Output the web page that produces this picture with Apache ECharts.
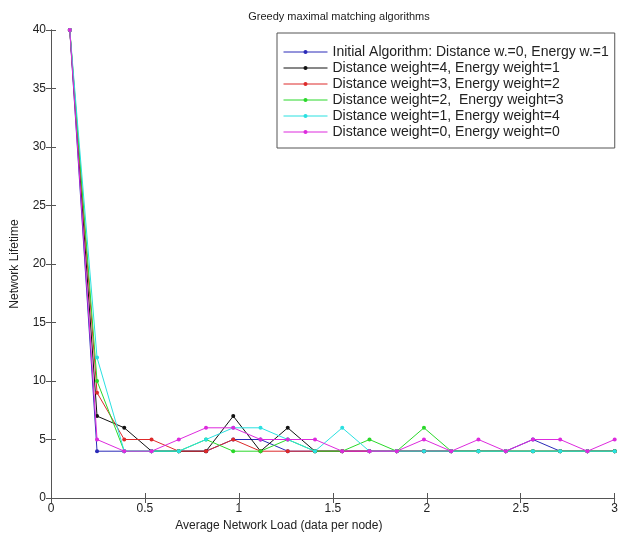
<!DOCTYPE html>
<html>
<head>
<meta charset="utf-8">
<script src="https://cdn.jsdelivr.net/npm/echarts@6/dist/echarts.min.js"></script>
<style>html,body{margin:0;padding:0;background:#fff}#c{width:621px;height:538px}</style>
</head>
<body>
<div id="c"></div>
<script>
const xValues = [0.1,0.245,0.39,0.535,0.68,0.825,0.97,1.115,1.26,1.405,1.55,1.695,1.84,1.985,2.13,2.275,2.42,2.565,2.71,2.855,3.0];
const initialAlg = [40,4,4,4,4,4,5,5,4,4,4,4,4,4,4,4,4,5,4,4,4];
const dist4En1  = [40,7,6,4,4,4,7,4,6,4,4,4,4,4,4,4,4,4,4,4,4];
const dist3En2  = [40,9,5,5,4,4,5,4,4,4,4,4,4,4,4,4,4,4,4,4,4];
const dist2En3  = [40,10,4,4,4,5,4,4,5,4,4,5,4,6,4,4,4,4,4,4,4];
const dist1En4  = [40,12,4,4,4,5,6,6,5,4,6,4,4,4,4,4,4,4,4,4,4];
const dist0En0  = [40,5,4,4,5,6,6,5,5,5,4,4,4,5,4,5,4,5,5,4,5];
const seriesNames = [
  'Initial Algorithm: Distance w.=0, Energy w.=1',
  'Distance weight=4, Energy weight=1',
  'Distance weight=3, Energy weight=2',
  'Distance weight=2,  Energy weight=3',
  'Distance weight=1, Energy weight=4',
  'Distance weight=0, Energy weight=0'
];
const seriesData = [initialAlg, dist4En1, dist3En2, dist2En3, dist1En4, dist0En0];
const colors = ['#2a2ab8','#111111','#dd2a2a','#2ad82a','#2ae0e0','#dd2add'];
const xTicks = [0,0.5,1,1.5,2,2.5,3];
const yTicks = [0,5,10,15,20,25,30,35,40];

const font = 'Liberation Sans, Arial, sans-serif';
const chart = echarts.init(document.getElementById('c'));
const axisLine = {show:true, lineStyle:{color:'#555', width:1}};
chart.setOption({
  animation:false,
  backgroundColor:'#fff',
  title:{text:'Greedy maximal matching algorithms', left:334, textAlign:'center', top:6,
    textStyle:{fontFamily:font, fontSize:11, fontWeight:'normal', color:'#222'}},
  grid:{left:51, right:4, top:30, bottom:40},
  legend:{
    orient:'vertical', left:277, top:33,
    padding:[11,6,8,6], itemGap:0, itemWidth:44, itemHeight:5,
    backgroundColor:'#fff', borderColor:'#555', borderWidth:1, borderRadius:0,
    lineStyle:{width:1},
    textStyle:{fontFamily:font, fontSize:14, lineHeight:16, color:'#222'},
    data: seriesNames
  },
  xAxis:[{
    type:'value', min:0, max:3, interval:0.5,
    name:'Average Network Load (data per node)', nameLocation:'middle', nameGap:20,
    nameTextStyle:{fontFamily:font, fontSize:12, color:'#222', padding:[0,108,0,0]},
    axisLine:axisLine, axisTick:{inside:true, length:5, lineStyle:{color:'#555'}},
    axisLabel:{fontFamily:font, fontSize:12, color:'#222', margin:5,
      formatter:v=>xTicks.includes(v)?String(v):''},
    splitLine:{show:false}
  },{
    type:'value', min:0, max:3, interval:0.5, position:'top',
    axisLine:axisLine, axisTick:{inside:true, length:5, lineStyle:{color:'#555'}},
    axisLabel:{show:false}, splitLine:{show:false}
  }],
  yAxis:[{
    type:'value', min:0, max:40, interval:5,
    name:'Network Lifetime', nameLocation:'middle', nameGap:30,
    nameTextStyle:{fontFamily:font, fontSize:12, color:'#222'},
    axisLine:axisLine, axisTick:{inside:true, length:5, lineStyle:{color:'#555'}},
    axisLabel:{fontFamily:font, fontSize:12, color:'#222', margin:5,
      formatter:v=>yTicks.includes(v)?String(v):''},
    splitLine:{show:false}
  },{
    type:'value', min:0, max:40, interval:5, position:'right',
    axisLine:axisLine, axisTick:{inside:true, length:5, lineStyle:{color:'#555'}},
    axisLabel:{show:false}, splitLine:{show:false}
  }],
  series: seriesData.map((d,i)=>({
    name: seriesNames[i], type:'line',
    data: d.map((v,j)=>[xValues[j], v]),
    symbol:'circle', symbolSize:4, showSymbol:true,
    lineStyle:{width:1, color:colors[i]},
    itemStyle:{color:colors[i]},
    z: 2 + i
  }))
});
</script>
</body>
</html>
